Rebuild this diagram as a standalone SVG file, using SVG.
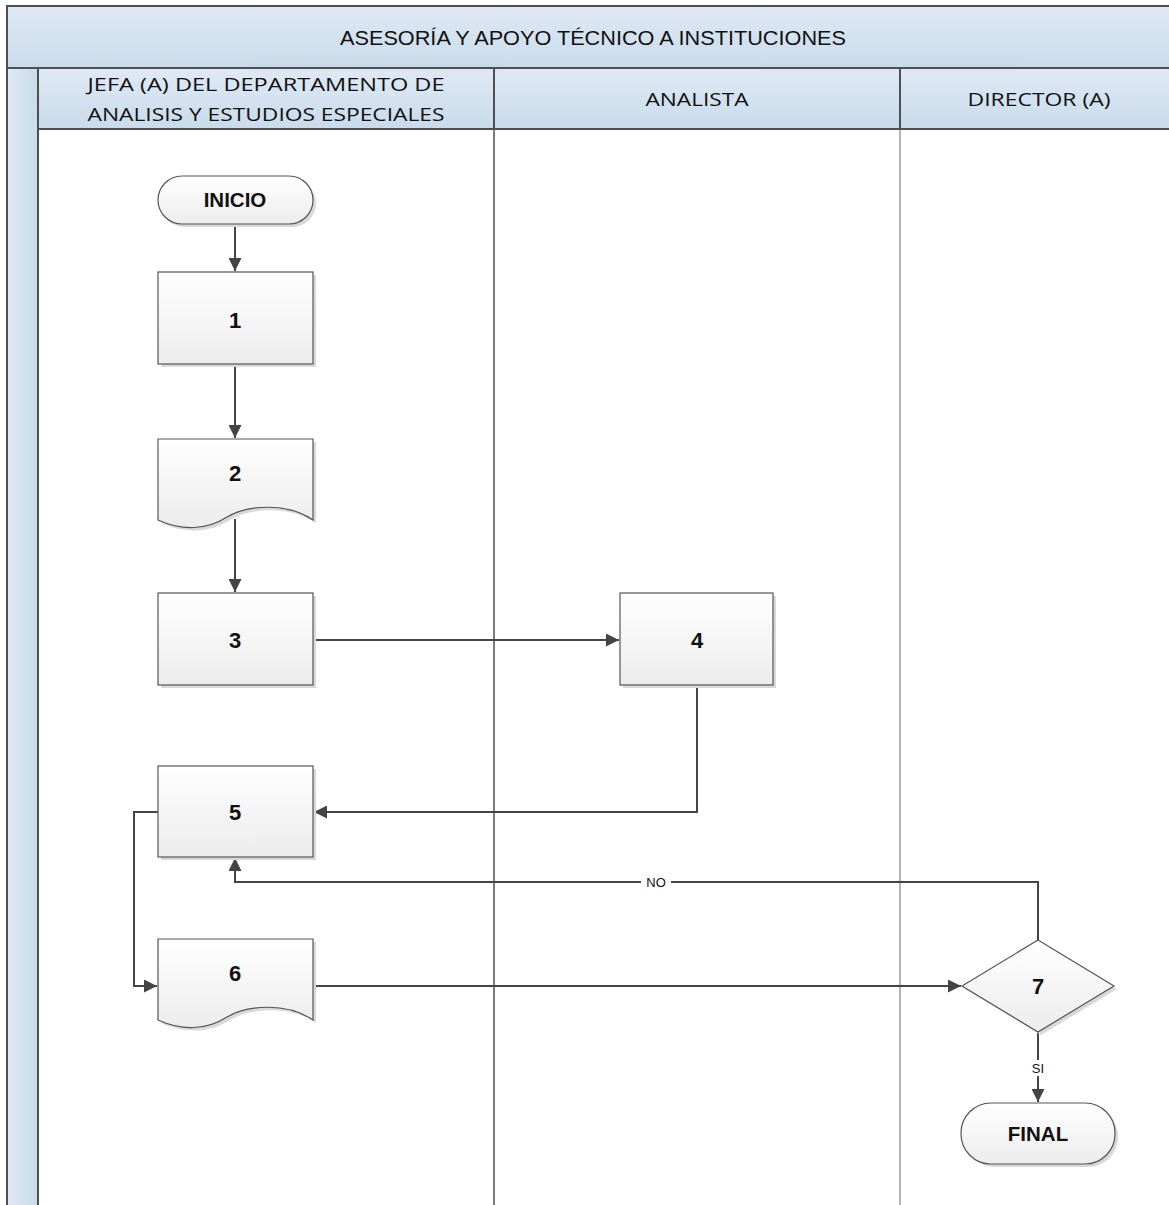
<svg xmlns="http://www.w3.org/2000/svg" width="1169" height="1205" viewBox="0 0 1169 1205">
<style>
.hdr{fill:url(#hg);stroke:#4d4f52;stroke-width:2}
.lbl{font-family:"Open Sans","Noto Sans",sans-serif;font-size:18.5px;fill:#111;text-anchor:middle}
.ttl{font-family:"Liberation Sans",Arial,sans-serif;font-size:21px;fill:#111;text-anchor:middle}
.shape{fill:url(#ng);stroke:#555;stroke-width:1.2}
.shadow{fill:#d9d9d9}
.num{font-family:"Liberation Sans",Arial,sans-serif;font-size:22px;font-weight:bold;fill:#111;text-anchor:middle}
.term{font-family:"Liberation Sans",Arial,sans-serif;font-size:20.5px;font-weight:bold;fill:#111;text-anchor:middle}
.conn{fill:none;stroke:#444;stroke-width:2}
.cl{font-family:"Liberation Sans",Arial,sans-serif;font-size:13px;fill:#111;text-anchor:middle}
</style>
<defs>
<linearGradient id="hg" x1="0" y1="0" x2="0" y2="1">
<stop offset="0" stop-color="#dfe9f4"/><stop offset="1" stop-color="#c9dbeb"/>
</linearGradient>
<linearGradient id="vg" x1="0" y1="0" x2="1" y2="0">
<stop offset="0" stop-color="#dfe9f4"/><stop offset="1" stop-color="#c9dbeb"/>
</linearGradient>
<linearGradient id="ng" x1="0" y1="0" x2="0" y2="1">
<stop offset="0" stop-color="#ffffff"/><stop offset="1" stop-color="#ececec"/>
</linearGradient>
<marker id="arr" viewBox="0 0 12 12" refX="12" refY="6" markerWidth="13" markerHeight="13" markerUnits="userSpaceOnUse" orient="auto">
<path d="M0,0 L12,6 L0,12 z" fill="#444"/>
</marker>
</defs>
<rect width="1169" height="1205" fill="#fff"/>
<g id="pool">
<rect x="7" y="6" width="1170" height="62" class="hdr"/>
<text x="593" y="45" class="ttl" textLength="506" lengthAdjust="spacingAndGlyphs">ASESORÍA Y APOYO TÉCNICO A INSTITUCIONES</text>
<rect x="7" y="68" width="31" height="1145" fill="url(#vg)" stroke="#4d4f52" stroke-width="2"/>
</g>
<g id="lanes">
<line x1="38" y1="129" x2="38" y2="1205" stroke="#4d4f52" stroke-width="2"/>
<line x1="494" y1="129" x2="494" y2="1205" stroke="#4d4f52" stroke-width="1.5"/>
<line x1="900" y1="129" x2="900" y2="1205" stroke="#9a9a9a" stroke-width="1.5"/>
<rect x="38" y="68" width="456" height="61" class="hdr"/>
<rect x="494" y="68" width="406" height="61" class="hdr"/>
<rect x="900" y="68" width="277" height="61" class="hdr"/>
<text x="266" y="91" class="lbl" textLength="357" lengthAdjust="spacingAndGlyphs">JEFA (A) DEL DEPARTAMENTO DE</text>
<text x="266" y="121" class="lbl" textLength="357" lengthAdjust="spacingAndGlyphs">ANALISIS Y ESTUDIOS ESPECIALES</text>
<text x="697" y="106" class="lbl" textLength="103" lengthAdjust="spacingAndGlyphs">ANALISTA</text>
<text x="1039" y="106" class="lbl" textLength="143" lengthAdjust="spacingAndGlyphs">DIRECTOR (A)</text>
</g>
<g id="connectors">
<path class="conn" d="M235,224 V271" marker-end="url(#arr)"/>
<path class="conn" d="M235,364 V438" marker-end="url(#arr)"/>
<path class="conn" d="M235,519 V592" marker-end="url(#arr)"/>
<path class="conn" d="M313,640 H619" marker-end="url(#arr)"/>
<path class="conn" d="M697,685 V812 H314" marker-end="url(#arr)"/>
<path class="conn" d="M158,812 H134 V986 H157" marker-end="url(#arr)"/>
<path class="conn" d="M313,986 H961" marker-end="url(#arr)"/>
<path class="conn" d="M1038,940 V882 H235 V858" marker-end="url(#arr)"/>
<path class="conn" d="M1038,1032 V1102" marker-end="url(#arr)"/>
<rect x="641" y="875" width="30" height="14" fill="#fff"/>
<text x="656" y="887" class="cl">NO</text>
<rect x="1028" y="1060" width="20" height="16" fill="#fff"/>
<text x="1038" y="1073" class="cl">SI</text>
</g>
<g id="inicio">
<rect x="161" y="179" width="155" height="48" rx="24" class="shadow"/>
<rect x="158" y="176" width="155" height="48" rx="24" class="shape"/>
<text x="235" y="207" class="term">INICIO</text>
</g>
<g id="n1">
<rect x="161" y="275" width="155" height="92" class="shadow"/>
<rect x="158" y="272" width="155" height="92" class="shape"/>
<text x="235" y="328" class="num">1</text>
</g>
<g id="n2">
<path d="M161,442 H316 V523 C290,505 250,508 230,520 C210,533 185,534 161,523 Z" class="shadow"/>
<path d="M158,439 H313 V520 C287,502 247,505 227,517 C207,530 182,531 158,520 Z" class="shape"/>
<text x="235" y="481" class="num">2</text>
</g>
<g id="n3">
<rect x="161" y="596" width="155" height="92" class="shadow"/>
<rect x="158" y="593" width="155" height="92" class="shape"/>
<text x="235" y="648" class="num">3</text>
</g>
<g id="n4">
<rect x="623" y="596" width="153" height="92" class="shadow"/>
<rect x="620" y="593" width="153" height="92" class="shape"/>
<text x="697" y="648" class="num">4</text>
</g>
<g id="n5">
<rect x="161" y="769" width="155" height="91" class="shadow"/>
<rect x="158" y="766" width="155" height="91" class="shape"/>
<text x="235" y="820" class="num">5</text>
</g>
<g id="n6">
<path d="M161,942 H316 V1023 C290,1005 250,1008 230,1020 C210,1033 185,1034 161,1023 Z" class="shadow"/>
<path d="M158,939 H313 V1020 C287,1002 247,1005 227,1017 C207,1030 182,1031 158,1020 Z" class="shape"/>
<text x="235" y="981" class="num">6</text>
</g>
<g id="n7">
<path d="M1041,943 L1117,989 L1041,1035 L965,989 Z" class="shadow"/>
<path d="M1038,940 L1114,986 L1038,1032 L962,986 Z" class="shape"/>
<text x="1038" y="994" class="num">7</text>
</g>
<g id="final">
<rect x="964" y="1106" width="154" height="61" rx="30" class="shadow"/>
<rect x="961" y="1103" width="154" height="61" rx="30" class="shape"/>
<text x="1038" y="1141" class="term">FINAL</text>
</g>
</svg>
